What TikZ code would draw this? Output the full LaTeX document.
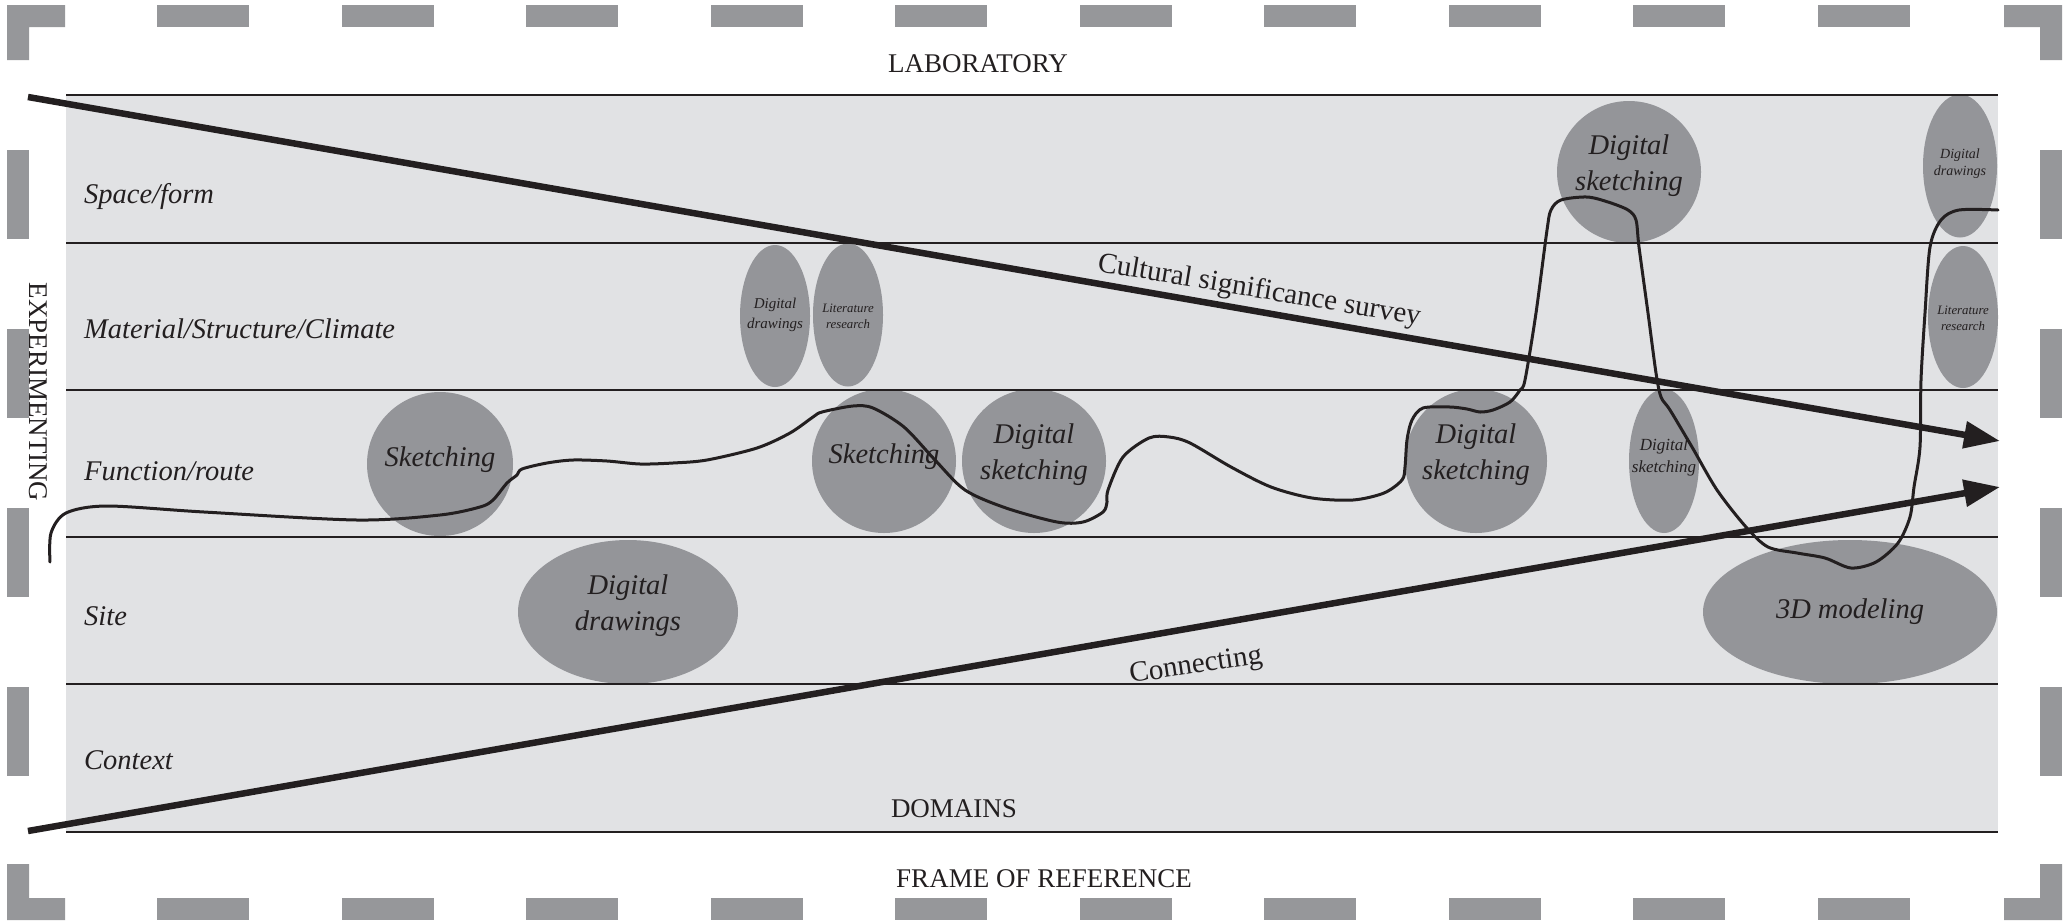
\documentclass[tikz,border=0pt]{standalone}
\usepackage{fontspec}
\setmainfont{Liberation Serif}
\usetikzlibrary{arrows.meta,shapes.geometric}
\definecolor{dashgray}{HTML}{96979A}
\definecolor{blobgray}{HTML}{949599}
\definecolor{bandfill}{HTML}{E1E2E4}
\definecolor{inkcol}{HTML}{231F20}
\tikzset{
  dashbox/.style={fill=dashgray,draw=none},
  bandline/.style={draw=inkcol,line width=2.5pt},
  blob/.style={ellipse,fill=blobgray,draw=none,inner sep=0pt},
  bigtxt/.style={align=center,text=inkcol,inner sep=0pt,font=\fontsize{28.5}{36}\selectfont\itshape},
  smalltxt/.style={align=center,text=inkcol,inner sep=0pt},
  rowlabel/.style={anchor=base west,text=inkcol,inner sep=0pt,font=\fontsize{28.5}{34}\selectfont\itshape},
  capslabel/.style={anchor=base,text=inkcol,inner sep=0pt,font=\fontsize{27}{32}\selectfont},
  wave/.style={draw=inkcol,line width=3pt,line cap=round,line join=round},
  bigarrow/.style={draw=inkcol,line width=6.5pt,-{Triangle[length=36pt,width=26pt]}},
  arrowtxt/.style={anchor=base,text=inkcol,inner sep=0pt,font=\fontsize{29}{34}\selectfont}
}
\begin{document}
\begin{tikzpicture}[x=1pt,y=-1pt]
\useasboundingbox (0,0) rectangle (2067,922);
% frame of reference (dashed border)
\foreach \x in {157,341.5,526,710.5,895,1079.5,1264,1448.5,1633,1817.5}{
  \fill[dashbox] (\x,5) rectangle ++(92,22);
  \fill[dashbox] (\x,898) rectangle ++(92,22);
}
\foreach \y in {150,329,508,687}{
  \fill[dashbox] (7,\y) rectangle ++(22,89);
  \fill[dashbox] (2040,\y) rectangle ++(22,89);
}
\fill[dashbox] (7,5) -- (65,5) -- (65,27) -- (29,27) -- (29,60) -- (7,60) -- cycle;
\fill[dashbox] (2062,5) -- (2004,5) -- (2004,27) -- (2040,27) -- (2040,60) -- (2062,60) -- cycle;
\fill[dashbox] (7,920) -- (65,920) -- (65,898) -- (29,898) -- (29,864) -- (7,864) -- cycle;
\fill[dashbox] (2062,920) -- (2004,920) -- (2004,898) -- (2040,898) -- (2040,864) -- (2062,864) -- cycle;
% bands
\fill[bandfill] (66,95) rectangle (1998,832);
% ellipses
\node[blob,minimum width=146,minimum height=144] (s1) at (440,464) {};
\node[blob,minimum width=220,minimum height=144] (dd1) at (628,612) {};
\node[blob,minimum width=70,minimum height=142] (dd2) at (775,316) {};
\node[blob,minimum width=70,minimum height=143] (lr1) at (848,315) {};
\node[blob,minimum width=144,minimum height=144] (s2) at (884,461) {};
\node[blob,minimum width=144,minimum height=144] (ds1) at (1034,461) {};
\node[blob,minimum width=142,minimum height=144] (ds2) at (1476,461) {};
\node[blob,minimum width=144,minimum height=142] (ds3) at (1629,172) {};
\node[blob,minimum width=70,minimum height=144] (ds4) at (1664,461) {};
\node[blob,minimum width=74,minimum height=143] (dd3) at (1960,166) {};
\node[blob,minimum width=70,minimum height=142] (lr2) at (1963,317) {};
\node[blob,minimum width=294,minimum height=144] (m3d) at (1850,612) {};
% ellipse texts
\node[bigtxt] (ts1) at (440,460) {Sketching};
\node[bigtxt] (tdd1) at (628,606) {Digital\\drawings};
\node[smalltxt,font=\fontsize{15}{20}\selectfont\itshape] (tdd2) at (775,315) {Digital\\drawings};
\node[smalltxt,font=\fontsize{12.8}{16}\selectfont\itshape] (tlr1) at (848,316) {Literature\\research};
\node[bigtxt] (ts2) at (884,457) {Sketching};
\node[bigtxt] (tds1) at (1034,455) {Digital\\sketching};
\node[bigtxt] (tds2) at (1476,455) {Digital\\sketching};
\node[bigtxt] (tds3) at (1629,166) {Digital\\sketching};
\node[smalltxt,font=\fontsize{17}{22}\selectfont\itshape] (tds4) at (1664,457) {Digital\\sketching};
\node[smalltxt,font=\fontsize{14}{17}\selectfont\itshape] (tdd3) at (1960,164) {Digital\\drawings};
\node[smalltxt,font=\fontsize{12.8}{16}\selectfont\itshape] (tlr2) at (1963,318) {Literature\\research};
\node[bigtxt] (tm3d) at (1850,612) {3D modeling};
% band lines
\foreach \y in {95,243,390,537,684,832}{
  \draw[bandline] (66,\y) -- (1998,\y);
}
% row labels
\node[rowlabel] (r1) at (84,203) {Space/form};
\node[rowlabel] (r2) at (84,338) {Material/Structure/Climate};
\node[rowlabel] (r3) at (84,480) {Function/route};
\node[rowlabel] (r4) at (84,625) {Site};
\node[rowlabel] (r5) at (84,769) {Context};
% captions
\node[capslabel] (lab) at (978,72) {LABORATORY};
\node[capslabel] (dom) at (954,817) {DOMAINS};
\node[capslabel] (frm) at (1044,887) {FRAME OF REFERENCE};
\node[text=inkcol,inner sep=0pt,font=\fontsize{27}{32}\selectfont,rotate=-90] (exp) at (38,392) {EXPERIMENTING};
% wavy process line
\draw[wave] plot[smooth,tension=0.5] coordinates {
 (50,562) (51,533) (66,513) (107,506) (204,512) (357,520) (440,515) (480,507)
 (493,500) (507,483) (517,475) (522,469) (547,463) (573,460) (607,461) (640,464)
 (673,463) (707,460) (757,448) (790,433) (813,417) (822,412) (853,406) (873,408)
 (904,427) (935,460) (965,490) (1006,508) (1057,522) (1083,522) (1103,512) (1107,502)
 (1108,490) (1123,457) (1149,438) (1169,437) (1190,443) (1231,467) (1271,487) (1312,498)
 (1353,500) (1384,493) (1402,480) (1405,467) (1407,440) (1412,420) (1423,408) (1450,407)
 (1467,409) (1480,412) (1493,410) (1510,402) (1520,390) (1525,380) (1536,313) (1547,230)
 (1551,210) (1561,200) (1587,197) (1608,202) (1628,210) (1636,220) (1639,247) (1648,313)
 (1656,373) (1661,397) (1670,410) (1692,447) (1717,490) (1746,527) (1768,547) (1797,553)
 (1825,558) (1851,568) (1876,562) (1898,543) (1910,517) (1914,487) (1920,447) (1921,380)
 (1925,313) (1930,247) (1941,220) (1959,210) (1998,210)};
% big arrows
\coordinate (cs) at (28,97);
\coordinate (ce) at (2000,441);
\coordinate (ks) at (28,831);
\coordinate (ke) at (2000,487);
\draw[bigarrow] (cs) -- (ce);
\draw[bigarrow] (ks) -- (ke);
\node[arrowtxt,rotate=-9.5] (cult) at (1258,298) {Cultural significance survey};
\node[arrowtxt,rotate=8.5] (conn) at (1197,673) {Connecting};
\end{tikzpicture}
\end{document}
